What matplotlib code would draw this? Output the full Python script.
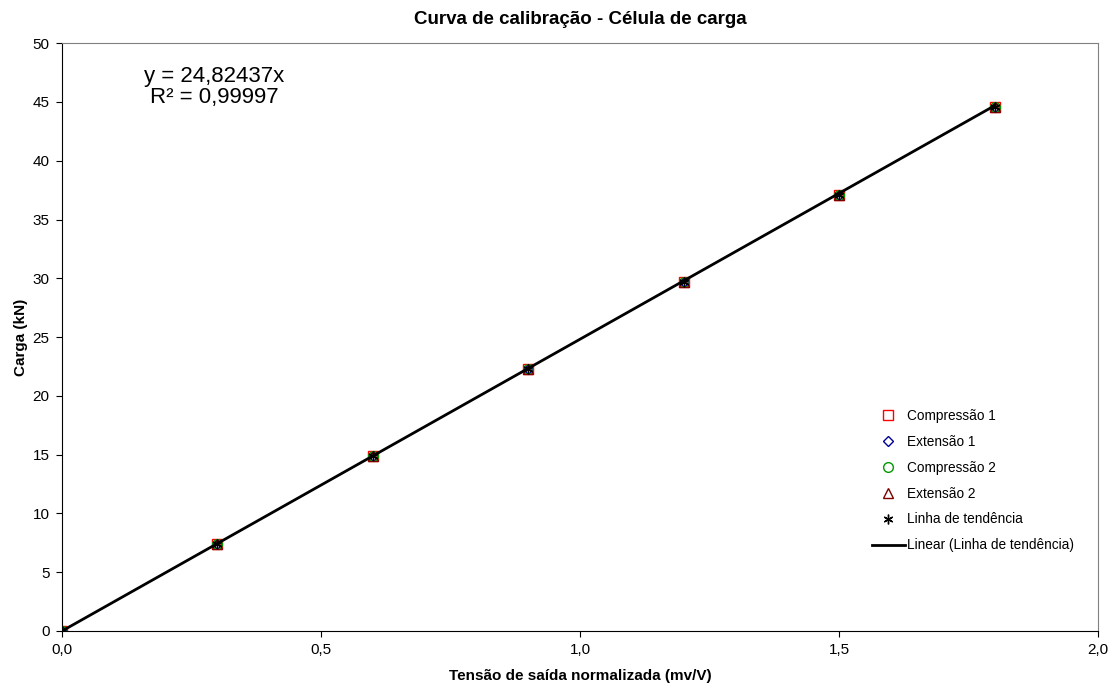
import matplotlib

matplotlib.use("Agg")
import matplotlib.pyplot as plt
import numpy as np

plt.rcParams["font.family"] = ["Liberation Sans", "DejaVu Sans"]

# tensão normalizada (mV/V) e carga (kN)
tensao = [0.0, 0.3, 0.6, 0.9, 1.2, 1.5, 1.8]
compressao1 = [0.0, 7.42, 14.85, 22.28, 29.71, 37.13, 44.56]
extensao1 = [0.0, 7.42, 14.85, 22.28, 29.71, 37.13, 44.56]
compressao2 = [0.0, 7.42, 14.85, 22.28, 29.71, 37.13, 44.56]
extensao2 = [0.0, 7.42, 14.85, 22.28, 29.71, 37.13, 44.56]
tendencia = [0.0, 7.42, 14.85, 22.28, 29.71, 37.13, 44.56]
slope = 24.82437
r2 = 0.99997

fig = plt.figure(figsize=(11.16, 6.86), dpi=100)
ax = fig.add_axes([0.0556, 0.0802, 0.9284, 0.8568])

ms = 7
ax.plot(tensao, compressao1, ls="none", marker="s", ms=ms, mfc="none", mec="#ff0000", mew=1.0, label="Compressão 1")
ax.plot(tensao, extensao1, ls="none", marker="D", ms=ms - 1.5, mfc="none", mec="#000099", mew=1.0, label="Extensão 1")
ax.plot(tensao, compressao2, ls="none", marker="o", ms=ms, mfc="none", mec="#009900", mew=1.0, label="Compressão 2")
ax.plot(tensao, extensao2, ls="none", marker="^", ms=ms, mfc="none", mec="#800000", mew=1.0, label="Extensão 2")
ax.plot(tensao, tendencia, ls="none", marker=(6, 2, 0), ms=ms, mec="black", mew=1.0, label="Linha de tendência")

xs = np.array([0.0, max(tensao)])
ax.plot(xs, slope * xs, color="black", lw=2, label="Linear (Linha de tendência)")

ax.set_xlim(0, 2)
ax.set_ylim(0, 50)
ax.set_xticks(np.arange(0, 2.01, 0.5))
ax.set_xticklabels([f"{v:.1f}".replace(".", ",") for v in np.arange(0, 2.01, 0.5)])
ax.set_yticks(range(0, 51, 5))
ax.tick_params(labelsize=11, direction="out", length=4, pad=5)
for side in ("top", "right"):
    ax.spines[side].set_color("#808080")
ax.set_xlabel("Tensão de saída normalizada (mv/V)", fontsize=11, fontweight="bold", labelpad=8)
ax.set_ylabel("Carga (kN)", fontsize=11, fontweight="bold", labelpad=3)
ax.set_title("Curva de calibração - Célula de carga", fontsize=13.5, fontweight="bold", pad=14)

ax.text(0.147, 0.925, f"y = {slope:.5f}x".replace(".", ",") + "\n" + f"R² = {r2:.5f}".replace(".", ","),
        transform=ax.transAxes, ha="center", va="center", fontsize=16, linespacing=1.0)

ax.legend(loc="center left", bbox_to_anchor=(0.77, 0.256), frameon=False, fontsize=9.8,
          handlelength=2.4, labelspacing=0.88, handletextpad=0.2)

fig.savefig("out.png", dpi=100)
